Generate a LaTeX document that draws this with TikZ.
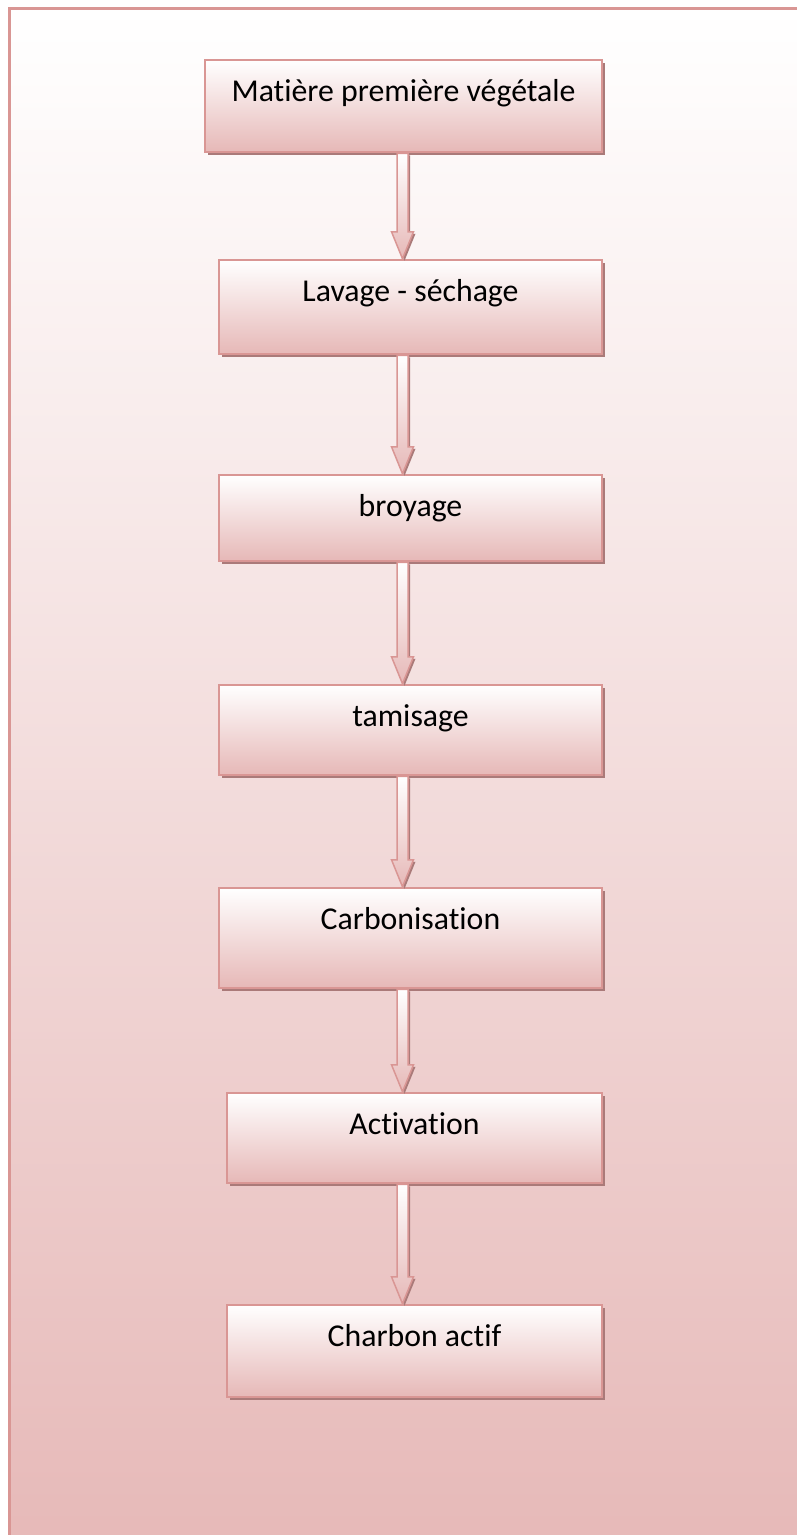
\documentclass[tikz,border=0pt]{standalone}
\usepackage{fontspec}
\setmainfont{Carlito}[Ligatures=NoCommon]
\definecolor{edgepink}{RGB}{217, 150, 148}
\definecolor{fillpink}{RGB}{230, 184, 183}
\definecolor{shadowpink}{RGB}{170, 122, 121}
\usepackage{tikz}
\usetikzlibrary{shadows, calc, positioning}

\tikzset{
  stepbox/.style={draw=edgepink, line width=2.5pt, top color=white, bottom color=fillpink,
    inner sep=0pt, align=center, text height=41pt,
    font=\fontsize{31.8}{36}\selectfont,
    general shadow={fill=shadowpink, shadow xshift=3pt, shadow yshift=-3pt}},
  flowarrow/.style={draw=edgepink, line width=1.5pt, top color=white, bottom color=fillpink,
    general shadow={fill=shadowpink, shadow xshift=2pt, shadow yshift=-2pt}}
}

% block arrow from one box to the next, on the common axis
\newcommand{\blockarrow}[2]{
  \path[flowarrow] let \p1=(#1.south -| axis), \p2=(#2.north -| axis) in
    (\x1-5.5pt, \y1) -- (\x1+5.5pt, \y1) -- (\x1+5.5pt, \y2+27pt) -- (\x1+11pt, \y2+27pt)
    -- (\x2, \y2) -- (\x1-11pt, \y2+27pt) -- (\x1-5.5pt, \y2+27pt) -- cycle;
}

\begin{document}
\begin{tikzpicture}[x=1pt, y=-1pt]
  \useasboundingbox (0,0) rectangle (797,1535);
  \clip (0,0) rectangle (797,1535);

  % Background frame
  \shade[top color=white, bottom color=fillpink, draw=edgepink, line width=2.5pt]
    (9.5,8.7) rectangle (830,1570);

  \coordinate (axis) at (402.5,0);

  % Process steps
  \node[stepbox, minimum width=397pt, minimum height=92pt, text depth=51pt] (matiere) at (403.5,106) {Matière première végétale};
  \node[stepbox, minimum width=383pt, minimum height=94pt, text depth=53pt] (lavage) at (410.5,307) {Lavage - séchage};
  \node[stepbox, minimum width=383pt, minimum height=86pt, text depth=45pt] (broyage) at (410.5,518) {broyage};
  \node[stepbox, minimum width=383pt, minimum height=90pt, text depth=49pt] (tamisage) at (410.5,730) {tamisage};
  \node[stepbox, minimum width=383pt, minimum height=100pt, text depth=59pt] (carbon) at (410.5,938) {Carbonisation};
  \node[stepbox, minimum width=375pt, minimum height=90pt, text depth=49pt] (activ) at (414.5,1138) {Activation};
  \node[stepbox, minimum width=375pt, minimum height=92pt, text depth=51pt] (charbon) at (414.5,1351) {Charbon actif};

  % Arrows
  \blockarrow{matiere}{lavage}
  \blockarrow{lavage}{broyage}
  \blockarrow{broyage}{tamisage}
  \blockarrow{tamisage}{carbon}
  \blockarrow{carbon}{activ}
  \blockarrow{activ}{charbon}
\end{tikzpicture}
\end{document}
